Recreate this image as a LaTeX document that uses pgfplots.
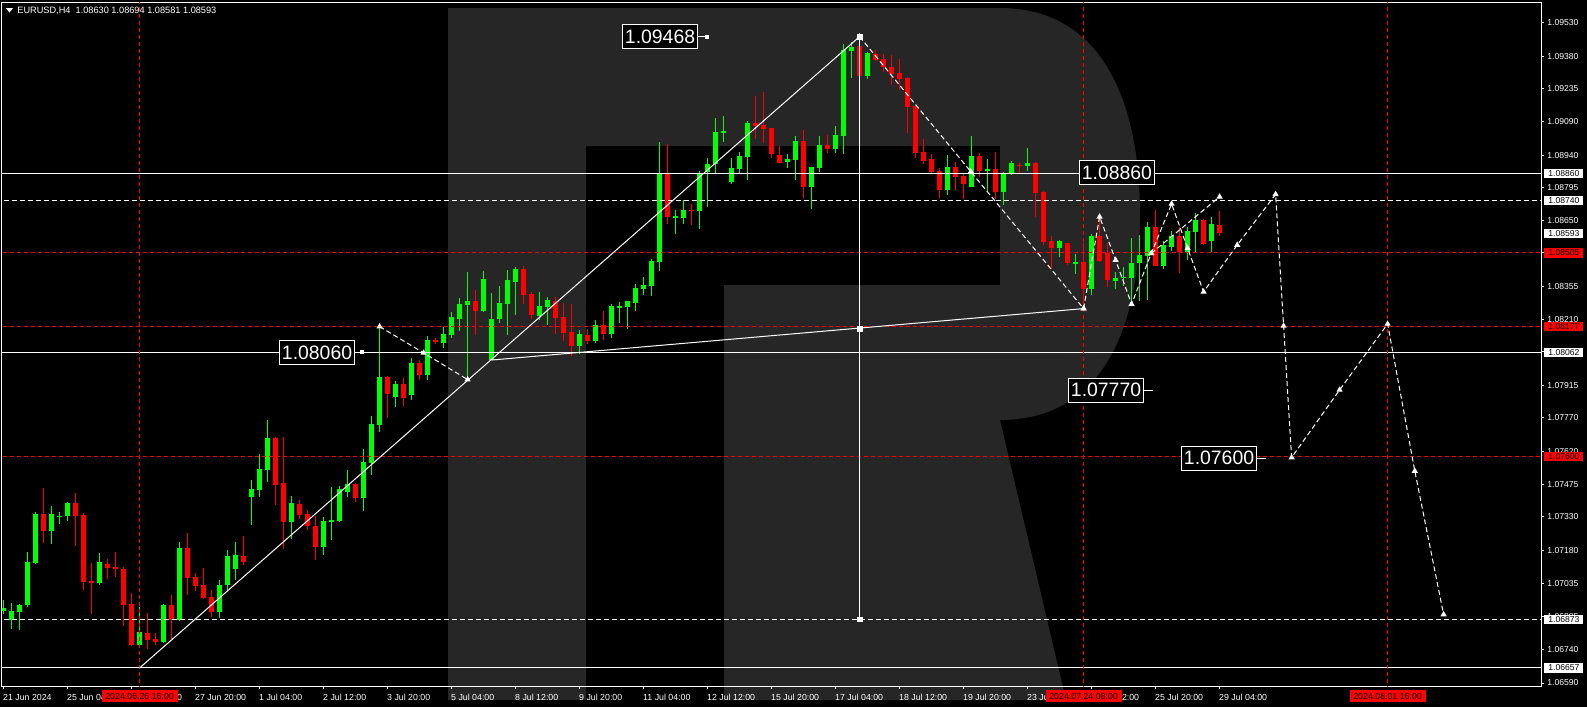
\documentclass[border=0pt]{standalone}
\usepackage{pgfplots}
\pgfplotsset{compat=1.18}
\usepackage{pgfplotstable}
\usepackage{fontspec}
\setmainfont{Liberation Sans}
\definecolor{wm}{RGB}{38,38,38}
\definecolor{cgreen}{RGB}{0,255,0}
\definecolor{cred}{RGB}{255,0,0}

\pgfplotstableread{
i o h l c
0 1.06911 1.06960 1.06900 1.06925
1 1.06870 1.06948 1.06832 1.06912
2 1.06906 1.06942 1.06826 1.06937
3 1.06937 1.07173 1.06930 1.07129
4 1.07124 1.07351 1.07121 1.07342
6 1.07267 1.07378 1.07209 1.07342
7 1.07330 1.07351 1.07298 1.07334
8 1.07334 1.07396 1.07313 1.07391
12 1.07035 1.07169 1.07030 1.07129
17 1.06759 1.06930 1.06759 1.06817
20 1.06772 1.06942 1.06768 1.06937
22 1.06870 1.07218 1.06866 1.07191
27 1.06906 1.07049 1.06880 1.07026
28 1.07026 1.07182 1.07004 1.07156
29 1.07100 1.07218 1.07049 1.07160
31 1.07418 1.07494 1.07293 1.07454
32 1.07449 1.07610 1.07418 1.07543
33 1.07538 1.07761 1.07485 1.07681
36 1.07307 1.07423 1.07231 1.07391
40 1.07196 1.07329 1.07160 1.07311
41 1.07307 1.07463 1.07227 1.07316
42 1.07311 1.07467 1.07307 1.07454
43 1.07440 1.07538 1.07418 1.07476
45 1.07414 1.07632 1.07356 1.07574
46 1.07570 1.07779 1.07516 1.07743
47 1.07739 1.08177 1.07708 1.07952
49 1.07863 1.07935 1.07819 1.07921
51 1.07872 1.08037 1.07850 1.08015
53 1.07961 1.08135 1.07939 1.08117
55 1.08104 1.08175 1.08082 1.08144
56 1.08139 1.08242 1.08126 1.08220
57 1.08211 1.08304 1.08157 1.08277
58 1.08273 1.08420 1.07939 1.08291
60 1.08246 1.08424 1.08242 1.08389
61 1.08028 1.08326 1.08026 1.08211
62 1.08211 1.08358 1.08193 1.08282
63 1.08277 1.08429 1.08139 1.08384
64 1.08375 1.08442 1.08229 1.08433
67 1.08224 1.08331 1.08206 1.08268
68 1.08264 1.08309 1.08184 1.08295
72 1.08090 1.08162 1.08055 1.08144
74 1.08113 1.08206 1.08104 1.08184
76 1.08147 1.08277 1.08129 1.08268
77 1.08264 1.08288 1.08192 1.08268
78 1.08264 1.08295 1.08169 1.08291
79 1.08283 1.08367 1.08248 1.08349
80 1.08346 1.08398 1.08319 1.08362
81 1.08358 1.08478 1.08314 1.08469
82 1.08466 1.08999 1.08426 1.08861
84 1.08665 1.08696 1.08590 1.08669
85 1.08662 1.08741 1.08635 1.08696
87 1.08692 1.08870 1.08613 1.08861
88 1.08864 1.08928 1.08711 1.08901
89 1.08904 1.09106 1.08864 1.09043
90 1.09045 1.09115 1.08999 1.09048
91 1.08821 1.08928 1.08812 1.08883
92 1.08879 1.08954 1.08856 1.08936
93 1.08932 1.09092 1.08830 1.09083
98 1.08910 1.08945 1.08883 1.08923
99 1.08919 1.09026 1.08830 1.09003
101 1.08800 1.08890 1.08702 1.08887
102 1.08884 1.09026 1.08867 1.08985
104 1.08969 1.09070 1.08951 1.09030
105 1.09027 1.09435 1.08947 1.09408
106 1.09405 1.09444 1.09285 1.09422
108 1.09294 1.09400 1.09281 1.09396
118 1.08786 1.08941 1.08764 1.08887
121 1.08800 1.09026 1.08797 1.08936
123 1.08871 1.08923 1.08782 1.08879
125 1.08777 1.08865 1.08720 1.08862
126 1.08858 1.08914 1.08853 1.08905
128 1.08895 1.08972 1.08871 1.08907
132 1.08528 1.08564 1.08488 1.08559
134 1.08459 1.08500 1.08412 1.08463
136 1.08346 1.08590 1.08319 1.08582
139 1.08381 1.08421 1.08346 1.08395
140 1.08395 1.08444 1.08359 1.08399
141 1.08395 1.08574 1.08288 1.08461
142 1.08459 1.08586 1.08292 1.08497
143 1.08494 1.08644 1.08297 1.08622
145 1.08448 1.08559 1.08435 1.08542
146 1.08533 1.08604 1.08515 1.08582
148 1.08508 1.08622 1.08475 1.08604
149 1.08599 1.08684 1.08510 1.08653
151 1.08559 1.08666 1.08510 1.08635
}\uptab

\pgfplotstableread{
i o h l c
5 1.07342 1.07460 1.07213 1.07267
9 1.07391 1.07436 1.07200 1.07334
10 1.07338 1.07346 1.07004 1.07040
11 1.07044 1.07124 1.06897 1.07035
13 1.07120 1.07142 1.07053 1.07102
14 1.07106 1.07173 1.07062 1.07098
15 1.07098 1.07106 1.06844 1.06937
16 1.06942 1.06991 1.06755 1.06759
18 1.06813 1.06902 1.06741 1.06781
19 1.06786 1.06813 1.06759 1.06772
21 1.06937 1.06982 1.06786 1.06870
23 1.07191 1.07258 1.06982 1.07057
24 1.07062 1.07080 1.07000 1.07022
25 1.07026 1.07102 1.06964 1.06968
26 1.06973 1.07004 1.06884 1.06906
30 1.07156 1.07245 1.07116 1.07129
34 1.07681 1.07685 1.07383 1.07472
35 1.07480 1.07685 1.07187 1.07307
37 1.07387 1.07405 1.07320 1.07338
38 1.07342 1.07360 1.07271 1.07289
39 1.07289 1.07334 1.07138 1.07196
44 1.07476 1.07480 1.07396 1.07414
48 1.07952 1.07957 1.07770 1.07877
50 1.07921 1.07948 1.07823 1.07859
52 1.08015 1.08028 1.07939 1.07961
54 1.08117 1.08126 1.08099 1.08108
59 1.08291 1.08340 1.08139 1.08246
65 1.08433 1.08447 1.08277 1.08318
66 1.08322 1.08331 1.08211 1.08229
69 1.08291 1.08309 1.08144 1.08215
70 1.08220 1.08282 1.08113 1.08148
71 1.08153 1.08277 1.08046 1.08090
73 1.08139 1.08166 1.08099 1.08113
75 1.08184 1.08246 1.08117 1.08144
83 1.08861 1.08990 1.08635 1.08666
86 1.08696 1.08723 1.08631 1.08693
94 1.09083 1.09204 1.09012 1.09070
95 1.09074 1.09221 1.08994 1.09057
96 1.09061 1.09061 1.08928 1.08945
97 1.08941 1.08981 1.08905 1.08905
100 1.09003 1.09052 1.08749 1.08798
103 1.08985 1.09030 1.08951 1.08969
107 1.09426 1.09468 1.09290 1.09294
109 1.09391 1.09408 1.09361 1.09365
110 1.09368 1.09391 1.09312 1.09334
111 1.09333 1.09386 1.09254 1.09302
112 1.09306 1.09368 1.09232 1.09281
113 1.09284 1.09288 1.09040 1.09156
114 1.09159 1.09159 1.08929 1.08951
115 1.08954 1.09012 1.08902 1.08916
116 1.08923 1.08945 1.08858 1.08867
117 1.08870 1.08884 1.08751 1.08786
119 1.08887 1.08910 1.08786 1.08844
120 1.08849 1.08862 1.08746 1.08813
122 1.08936 1.08950 1.08844 1.08871
124 1.08879 1.08954 1.08746 1.08777
127 1.08898 1.08907 1.08859 1.08895
129 1.08907 1.08910 1.08666 1.08773
130 1.08777 1.08782 1.08542 1.08555
131 1.08559 1.08580 1.08433 1.08528
133 1.08550 1.08550 1.08452 1.08461
135 1.08466 1.08550 1.08257 1.08346
137 1.08582 1.08666 1.08467 1.08470
138 1.08506 1.08550 1.08355 1.08386
144 1.08622 1.08696 1.08445 1.08448
147 1.08582 1.08622 1.08417 1.08508
150 1.08653 1.08656 1.08543 1.08546
152 1.08630 1.08694 1.08581 1.08593
}\downtab

\pgfplotsset{
  wick/.style={forget plot, draw=none, mark=none,
    error bars/.cd, y dir=both, y explicit, error mark=none,
    error bar style={draw=#1, line width=0.5pt, solid}},
  body/.style={forget plot, draw=none, mark=none,
    error bars/.cd, y dir=both, y explicit, error mark=none,
    error bar style={draw=#1, line width=2.5pt, solid}},
  wdash/.style={white, line width=0.5pt, dash pattern=on 2.5pt off 1.5pt},
  rdash/.style={cred, line width=0.5pt, dash pattern=on 2pt off 1.5pt},
}

\begin{document}
\begin{tikzpicture}
\begin{scope}[x=0.5pt,y=-0.5pt]
\useasboundingbox (0,0) rectangle (1587,707);
\fill[black] (0,0) rectangle (1587,707);
% watermark R
\fill[wm] (448,8) rectangle (586,700);
\fill[wm] (586,8) -- (1000,8) .. controls (1095,8) and (1140,90) .. (1140,215)
  .. controls (1140,340) and (1095,420) .. (1000,420) -- (1066,700) -- (724,700)
  -- (724,285) -- (1000,285) -- (1000,146) -- (586,146) -- cycle;
\end{scope}

\begin{axis}[
  at={(1pt,-343pt)}, anchor=south west,
  scale only axis, width=769.5pt, height=342pt,
  xmin=-0.2, xmax=192.175, ymin=1.0657663, ymax=1.0962217,
  axis line style={white, line width=0.5pt},
  tick style={white, line width=0.5pt},
  major tick length=1.5pt, tick align=outside,
  ytick pos=right, yticklabel pos=right, xtick pos=left,
  ytick={1.0953,1.0938,1.09235,1.0909,1.0894,1.08795,1.0865,1.08505,1.08355,1.0821,1.08065,1.07915,1.0777,1.0762,1.07475,1.0733,1.0718,1.07035,1.06885,1.0674,1.0659},
  yticklabels={1.09530,1.09380,1.09235,1.09090,1.08940,1.08795,1.08650,1.08505,1.08355,1.08210,1.08065,1.07915,1.07770,1.07620,1.07475,1.07330,1.07180,1.07035,1.06885,1.06740,1.06590},
  xtick={0,8,...,152},
  xticklabels={21 Jun 2024,25 Jun 04:00,26 Jun 12:00,27 Jun 20:00,1 Jul 04:00,2 Jul 12:00,3 Jul 20:00,5 Jul 04:00,8 Jul 12:00,9 Jul 20:00,11 Jul 04:00,12 Jul 12:00,15 Jul 20:00,17 Jul 04:00,18 Jul 12:00,19 Jul 20:00,23 Jul 04:00,24 Jul 12:00,25 Jul 20:00,29 Jul 04:00},
  yticklabel style={font=\fontsize{4.3}{5}\selectfont, text=white, inner sep=0pt, anchor=west, xshift=1.5pt},
  xticklabel style={font=\fontsize{4.4}{5}\selectfont, text=white, inner sep=0pt, anchor=north west, yshift=-2.3pt, xshift=-0.4pt},
]
% candles
\addplot[wick=cgreen] table[x=i, y expr={(\thisrow{h}+\thisrow{l})/2}, y error expr={(\thisrow{h}-\thisrow{l})/2}] {\uptab};
\addplot[body=cgreen] table[x=i, y expr={(\thisrow{o}+\thisrow{c})/2}, y error expr={max(abs(\thisrow{c}-\thisrow{o})/2,0.000023)}] {\uptab};
\addplot[wick=cred] table[x=i, y expr={(\thisrow{h}+\thisrow{l})/2}, y error expr={(\thisrow{h}-\thisrow{l})/2}] {\downtab};
\addplot[body=cred] table[x=i, y expr={(\thisrow{o}+\thisrow{c})/2}, y error expr={max(abs(\thisrow{c}-\thisrow{o})/2,0.000023)}] {\downtab};

% horizontal levels
\addplot[white, line width=0.5pt] coordinates {(-1,1.0886) (200,1.0886)};
\addplot[wdash] coordinates {(-1,1.0874) (200,1.0874)};
\addplot[rdash] coordinates {(-1,1.08505) (200,1.08505)};
\addplot[rdash] coordinates {(-1,1.08177) (200,1.08177)};
\addplot[white, line width=0.5pt] coordinates {(-1,1.08062) (200,1.08062)};
\addplot[rdash] coordinates {(-1,1.076) (200,1.076)};
\addplot[wdash] coordinates {(-1,1.06873) (200,1.06873)};
\addplot[white, line width=0.5pt] coordinates {(-1,1.06657) (200,1.06657)};
% vertical time markers
\addplot[rdash] coordinates {(17,1.06) (17,1.1)};
\addplot[rdash] coordinates {(135,1.06) (135,1.1)};
\addplot[rdash] coordinates {(173,1.06) (173,1.1)};

% analysis lines
\addplot[white, line width=0.5pt] coordinates {(17,1.06657) (107,1.09468)};
\addplot[white, line width=0.5pt] coordinates {(61,1.08028) (135,1.08257)};
\addplot[white, line width=0.5pt, mark=square*, mark size=1.2pt, mark options={solid, fill=white}] coordinates {(107,1.09468) (107,1.08166) (107,1.06873)};
\addplot[wdash, mark=triangle*, mark size=1.3pt, mark options={solid, fill=white}] coordinates {(47,1.08177) (52.5,1.0806) (58,1.07941)};
\addplot[wdash, mark=triangle*, mark size=1.3pt, mark options={solid, fill=white}] coordinates {(107,1.09468) (120.9,1.08867) (135,1.08257)};
\addplot[wdash, mark=triangle*, mark size=1.3pt, mark options={solid, fill=white}] coordinates {(135,1.08257) (137,1.08666) (139,1.08473) (141,1.08277) (143.46,1.08503) (146,1.08723) (148,1.08526) (150,1.08332) (154.2,1.0854) (159,1.08766) (160,1.0818) (161,1.07594) (167,1.07895) (173,1.08189) (176.4,1.07534) (180,1.06895)};
\addplot[wdash, mark=triangle*, mark size=1.3pt, mark options={solid, fill=white}] coordinates {(143.46,1.08503) (152,1.08755)};
\end{axis}

\begin{scope}[x=0.5pt,y=-0.5pt]
% header
\fill[white] (6,8) -- (13,8) -- (9.5,12.5) -- cycle;
\node[anchor=west, inner sep=0pt, text=white, font=\fontsize{4.6}{5}\selectfont] at (17,11) {EURUSD,H4\ \ 1.08630 1.08694 1.08581 1.08593};
% chart text boxes
\tikzset{tb/.style={draw=white, line width=0.5pt, fill=black, text=white, inner xsep=1.2pt, inner ysep=0pt, minimum height=12pt, font=\fontsize{9.7}{11}\selectfont}}
\node[tb, anchor=east] at (698,36.5) {1.09468};
\draw[white, line width=0.5pt] (698,36.5) -- (707,36.5);
\fill[white] (705,34.5) rectangle (709,38.5);
\node[tb, anchor=east] at (355,352.4) {1.08060};
\draw[white, line width=0.5pt] (355,352.4) -- (362,352.4);
\fill[white] (360,350.4) rectangle (364,354.4);
\node[tb, anchor=west] at (1079,172.5) {1.08860};
\node[tb, anchor=east] at (1144,390) {1.07770};
\draw[white, line width=0.5pt] (1144,390) -- (1153,390);
\node[tb, anchor=east] at (1257,458) {1.07600};
\draw[white, line width=0.5pt] (1257,458) -- (1266,458);
% right price boxes
\tikzset{pb/.style={anchor=west, inner sep=0pt, minimum width=19.5pt, minimum height=4.6pt, font=\fontsize{4.3}{5}\selectfont}}
\node[pb, fill=white, text=black] at (1544,173.2) {1.08860};
\node[pb, fill=white, text=black] at (1544,200.1) {1.08740};
\node[pb, fill=white, text=black] at (1544,233.1) {1.08593};
\node[pb, fill=cred, text=black] at (1544,252.9) {1.08505};
\node[pb, fill=cred, text=black] at (1544,326.6) {1.08177};
\node[pb, fill=white, text=black] at (1544,352.4) {1.08062};
\node[pb, fill=cred, text=black] at (1544,456.2) {1.07600};
\node[pb, fill=white, text=black] at (1544,619.4) {1.06873};
\node[pb, fill=white, text=black] at (1544,667.9) {1.06657};
% red time boxes
\tikzset{db/.style={fill=cred, text=black, inner sep=0pt, minimum width=38pt, minimum height=6pt, font=\fontsize{4.4}{5}\selectfont}}
\node[db] at (139.6,696) {2024.06.26 16:00};
\node[db] at (1083.6,696) {2024.07.24 08:00};
\node[db] at (1387.6,696) {2024.08.01 16:00};
\end{scope}
\end{tikzpicture}
\end{document}
